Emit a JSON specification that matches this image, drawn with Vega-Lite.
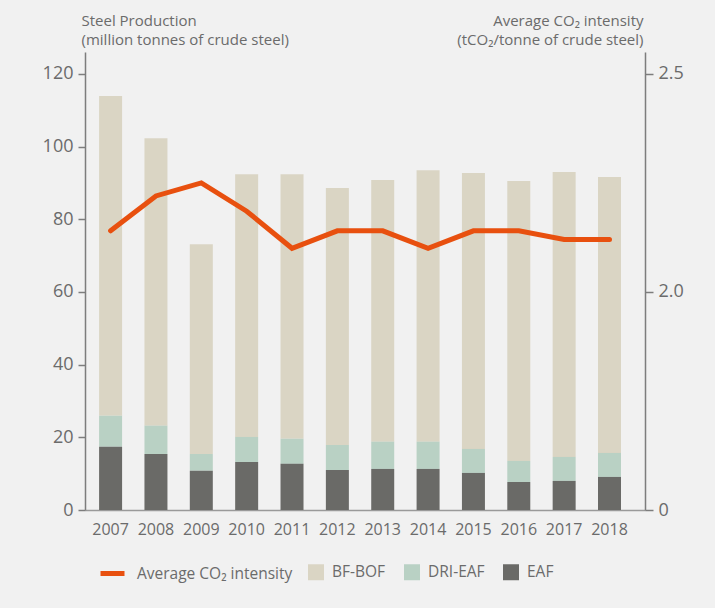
{
  "$schema": "https://vega.github.io/schema/vega-lite/v6.json",
  "width": 560,
  "height": 458,
  "autosize": {"type": "none"},
  "padding": {"left": 85, "top": 52, "right": 70, "bottom": 98},
  "background": "#f1f1f1",
  "config": {
    "font": "Open Sans",
    "view": {"stroke": null},
    "axis": {
      "domainColor": "#7d7d7d",
      "domainWidth": 1.5,
      "tickColor": "#7d7d7d",
      "tickWidth": 1.5,
      "labelColor": "#6b6b6b",
      "titleColor": "#6b6b6b",
      "grid": false,
      "labelFont": "Open Sans",
      "titleFont": "Open Sans",
      "titleFontWeight": "normal"
    },
    "legend": {
      "labelFont": "Open Sans",
      "labelColor": "#6b6b6b",
      "labelFontSize": 15.5,
      "padding": 0
    }
  },
  "datasets": {
    "prod": [
      {"year": "2007", "type": "BF-BOF", "value": 88.0},
      {"year": "2007", "type": "DRI-EAF", "value": 8.5},
      {"year": "2007", "type": "EAF", "value": 17.4},
      {"year": "2008", "type": "BF-BOF", "value": 79.1},
      {"year": "2008", "type": "DRI-EAF", "value": 7.8},
      {"year": "2008", "type": "EAF", "value": 15.4},
      {"year": "2009", "type": "BF-BOF", "value": 57.7},
      {"year": "2009", "type": "DRI-EAF", "value": 4.6},
      {"year": "2009", "type": "EAF", "value": 10.8},
      {"year": "2010", "type": "BF-BOF", "value": 72.3},
      {"year": "2010", "type": "DRI-EAF", "value": 6.9},
      {"year": "2010", "type": "EAF", "value": 13.2},
      {"year": "2011", "type": "BF-BOF", "value": 72.8},
      {"year": "2011", "type": "DRI-EAF", "value": 6.9},
      {"year": "2011", "type": "EAF", "value": 12.7},
      {"year": "2012", "type": "BF-BOF", "value": 70.7},
      {"year": "2012", "type": "DRI-EAF", "value": 6.9},
      {"year": "2012", "type": "EAF", "value": 11.0},
      {"year": "2013", "type": "BF-BOF", "value": 72.0},
      {"year": "2013", "type": "DRI-EAF", "value": 7.5},
      {"year": "2013", "type": "EAF", "value": 11.3},
      {"year": "2014", "type": "BF-BOF", "value": 74.7},
      {"year": "2014", "type": "DRI-EAF", "value": 7.5},
      {"year": "2014", "type": "EAF", "value": 11.3},
      {"year": "2015", "type": "BF-BOF", "value": 75.9},
      {"year": "2015", "type": "DRI-EAF", "value": 6.6},
      {"year": "2015", "type": "EAF", "value": 10.2},
      {"year": "2016", "type": "BF-BOF", "value": 77.0},
      {"year": "2016", "type": "DRI-EAF", "value": 5.8},
      {"year": "2016", "type": "EAF", "value": 7.7},
      {"year": "2017", "type": "BF-BOF", "value": 78.4},
      {"year": "2017", "type": "DRI-EAF", "value": 6.6},
      {"year": "2017", "type": "EAF", "value": 8.0},
      {"year": "2018", "type": "BF-BOF", "value": 75.9},
      {"year": "2018", "type": "DRI-EAF", "value": 6.6},
      {"year": "2018", "type": "EAF", "value": 9.1}
    ],
    "co2": [
      {"year": "2007", "intensity": 2.14},
      {"year": "2008", "intensity": 2.22},
      {"year": "2009", "intensity": 2.25},
      {"year": "2010", "intensity": 2.185},
      {"year": "2011", "intensity": 2.10},
      {"year": "2012", "intensity": 2.14},
      {"year": "2013", "intensity": 2.14},
      {"year": "2014", "intensity": 2.10},
      {"year": "2015", "intensity": 2.14},
      {"year": "2016", "intensity": 2.14},
      {"year": "2017", "intensity": 2.12},
      {"year": "2018", "intensity": 2.12}
    ]
  },
  "layer": [
    {
      "data": {"name": "prod"},
      "mark": {"type": "bar"},
      "encoding": {
        "x": {
          "field": "year",
          "type": "ordinal",
          "scale": {"paddingInner": 0.493, "paddingOuter": 0.42, "align": 0.37},
          "axis": {
            "title": null,
            "ticks": false,
            "labelAngle": 0,
            "labelFontSize": 16,
            "labelPadding": 11,
            "domainColor": "#9a9a9a",
            "domainWidth": 1.5
          }
        },
        "y": {
          "field": "value",
          "type": "quantitative",
          "stack": "zero",
          "scale": {"domain": [0, 126], "nice": false},
          "axis": {
            "orient": "left",
            "values": [0, 20, 40, 60, 80, 100, 120],
            "format": "d",
            "tickSize": 7,
            "labelPadding": 5,
            "labelFontSize": 18,
            "title": ["Steel Production", "(million tonnes of crude steel)"],
            "titleAngle": 0,
            "titleAlign": "left",
            "titleBaseline": "alphabetic",
            "titleX": -4,
            "titleY": -27,
            "titleFontSize": 15,
            "titleLineHeight": 19
          }
        },
        "color": {
          "field": "type",
          "type": "nominal",
          "scale": {
            "domain": ["BF-BOF", "DRI-EAF", "EAF"],
            "range": ["#dad5c4", "#b9d1c4", "#6a6a67"]
          },
          "legend": {
            "title": null,
            "orient": "none",
            "direction": "horizontal",
            "legendX": 223,
            "legendY": 512,
            "symbolType": "square",
            "symbolSize": 256,
            "symbolStrokeWidth": 0,
            "labelOffset": 8,
            "columnPadding": 18
          }
        },
        "order": {"field": "type", "sort": "descending"}
      }
    },
    {
      "data": {"name": "co2"},
      "mark": {"type": "line", "strokeWidth": 5, "strokeCap": "round"},
      "encoding": {
        "x": {"field": "year", "type": "ordinal"},
        "y": {
          "field": "intensity",
          "type": "quantitative",
          "scale": {"domain": [1.5, 2.55], "nice": false, "zero": false},
          "axis": {
            "orient": "right",
            "values": [1.5, 2.0, 2.5],
            "labelExpr": "datum.value == 1.5 ? '0' : format(datum.value, '.1f')",
            "tickSize": 8,
            "labelPadding": 5,
            "labelFontSize": 18,
            "title": ["Average CO₂ intensity", "(tCO₂/tonne of crude steel)"],
            "titleAngle": 0,
            "titleAlign": "right",
            "titleBaseline": "alphabetic",
            "titleX": -2,
            "titleY": -27,
            "titleFontSize": 15,
            "titleLineHeight": 19
          }
        },
        "stroke": {
          "datum": "Average CO₂ intensity",
          "scale": {"range": ["#e8500f"]},
          "legend": {
            "title": null,
            "orient": "none",
            "direction": "horizontal",
            "legendX": 13,
            "legendY": 507,
            "symbolType": "stroke",
            "symbolSize": 576,
            "symbolStrokeWidth": 5,
            "labelOffset": 10
          }
        }
      }
    }
  ],
  "resolve": {"scale": {"y": "independent"}}
}
